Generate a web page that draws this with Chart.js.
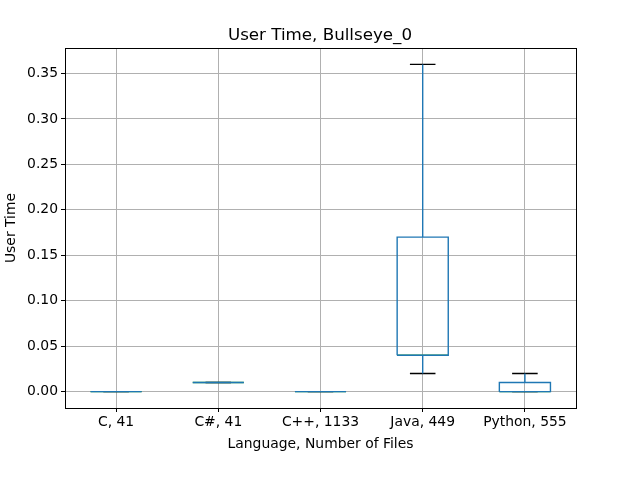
<!DOCTYPE html>
<html><head><meta charset="utf-8">
<script src="https://cdn.jsdelivr.net/npm/chart.js@4/dist/chart.umd.min.js"></script>
<style>html,body{margin:0;padding:0;background:#fff}</style>
</head><body>
<canvas id="c" width="640" height="480" style="width:640px;height:480px;display:block"></canvas>
<script>
const categories = ['C, 41', 'C#, 41', 'C++, 1133', 'Java, 449', 'Python, 555'];
const whiskerLow = [0, 0.01, 0, 0.02, 0];
const q1 = [0, 0.01, 0, 0.04, 0];
const median = [0, 0.01, 0, 0.04, 0];
const q3 = [0, 0.01, 0, 0.17, 0.01];
const whiskerHigh = [0, 0.01, 0, 0.36, 0.02];

const BOX_HALF = 0.25, CAP_HALF = 0.125;
const GAP = (x) => ({x: x, y: null});

const boxPts = [], whiskPts = [], capPts = [], medPts = [];
categories.forEach((c, i) => {
  const p = i + 1;
  boxPts.push({x: p - BOX_HALF, y: q1[i]}, {x: p + BOX_HALF, y: q1[i]}, {x: p + BOX_HALF, y: q3[i]},
              {x: p - BOX_HALF, y: q3[i]}, {x: p - BOX_HALF, y: q1[i]}, GAP(p));
  whiskPts.push({x: p, y: q1[i]}, {x: p, y: whiskerLow[i]}, GAP(p), {x: p, y: q3[i]}, {x: p, y: whiskerHigh[i]}, GAP(p));
  capPts.push({x: p - CAP_HALF, y: whiskerLow[i]}, {x: p + CAP_HALF, y: whiskerLow[i]}, GAP(p),
              {x: p - CAP_HALF, y: whiskerHigh[i]}, {x: p + CAP_HALF, y: whiskerHigh[i]}, GAP(p));
  medPts.push({x: p - BOX_HALF, y: median[i]}, {x: p + BOX_HALF, y: median[i]}, GAP(p));
});

const lineDs = (data, color) => ({data, borderColor: color, borderWidth: 1.4, showLine: true,
  pointRadius: 0, pointHoverRadius: 0, spanGaps: false, fill: false, tension: 0});

const FONT = "'DejaVu Sans', sans-serif";
const frame = {
  id: 'frame',
  afterDatasetsDraw(chart) {
    const {ctx, chartArea: a} = chart;
    ctx.save();
    ctx.strokeStyle = '#000'; ctx.lineWidth = 1;
    ctx.strokeRect(Math.round(a.left) + 0.5, Math.round(a.top) + 0.5,
                   Math.round(a.right - a.left), Math.round(a.bottom - a.top));
    ctx.restore();
  }
};

new Chart(document.getElementById('c'), {
  type: 'scatter',
  data: {datasets: [
    lineDs(boxPts, '#1f77b4'),
    lineDs(whiskPts, '#1f77b4'),
    lineDs(capPts, '#000000'),
    lineDs(medPts, '#2ca02c')
  ]},
  options: {
    responsive: false, animation: false, devicePixelRatio: 1,
    layout: {padding: {left: 0, right: 0, top: 0, bottom: 27}},
    plugins: {
      legend: {display: false}, tooltip: {enabled: false},
      title: {display: true, text: 'User Time, Bullseye_0', color: '#000',
        font: {family: FONT, size: 16.7, weight: 'normal'}, padding: {top: 26, bottom: 2}}
    },
    scales: {
      x: {
        type: 'linear', min: 0.5, max: 5.5,
        afterFit: (s) => { s.height = 45; },
        afterBuildTicks: (s) => { s.ticks = categories.map((c, i) => ({value: i + 1})); },
        ticks: {color: '#000', font: {family: FONT, size: 13.9}, padding: 2, maxRotation: 0,
          callback: (v) => categories[Math.round(v) - 1]},
        grid: {color: '#b0b0b0', lineWidth: 1, tickColor: '#000', tickLength: 4},
        border: {color: '#000'},
        title: {display: true, text: 'Language, Number of Files', color: '#000',
          font: {family: FONT, size: 13.9}, padding: {top: 0, bottom: 0}}
      },
      y: {
        min: -0.018, max: 0.378,
        afterFit: (s) => { s.width = 65; },
        afterBuildTicks: (s) => {
          const t = [];
          for (let k = 0; k <= 7; k++) t.push({value: Math.round(k * 5) / 100});
          s.ticks = t;
        },
        ticks: {color: '#000', font: {family: FONT, size: 13.9}, padding: 3,
          callback: (v) => v.toFixed(2)},
        grid: {color: '#b0b0b0', lineWidth: 1, tickColor: '#000', tickLength: 4},
        border: {color: '#000'},
        title: {display: true, text: 'User Time', color: '#000',
          font: {family: FONT, size: 13.9}, padding: {top: 3, bottom: 0}}
      },
      yRightSpace: {
        type: 'linear', position: 'right', min: 0, max: 1,
        afterFit: (s) => { s.width = 64; },
        ticks: {display: false},
        grid: {display: false, drawTicks: false},
        border: {display: false}
      }
    }
  },
  plugins: [frame]
});
</script>
</body></html>
